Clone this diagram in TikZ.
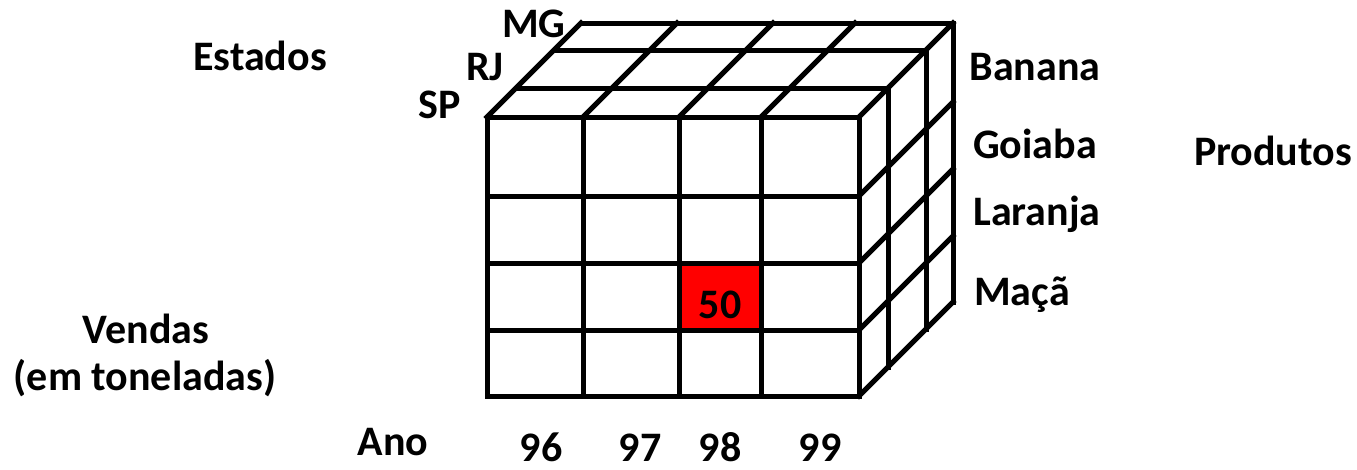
\documentclass[tikz,border=0pt]{standalone}
\usepackage{fontspec}
\setmainfont{Carlito}
\begin{document}
\begin{tikzpicture}[x=1pt,y=-1pt,
  grid/.style={line width=5pt,line cap=rect,line join=miter},
  lbl/.style={font=\fontsize{42}{46}\selectfont\bfseries,inner sep=0pt,anchor=base}]
\useasboundingbox (0,0) rectangle (1357,469);
% red cell
\fill[red] (679,263) rectangle (761,330);
% front face
\foreach \x in {487,583,679,761,859} \draw[grid] (\x,117) -- (\x,396);
\foreach \y in {117,196,263,330,396} \draw[grid] (487,\y) -- (859,\y);
% top face
\foreach \dx/\dy in {29/-29,67/-67,94/-94} \draw[grid] (487+\dx,117+\dy) -- (859+\dx,117+\dy);
\foreach \x in {487,583,679,761,859} \draw[grid] (\x,117) -- (\x+94,117-94);
% right face
\foreach \dx/\dy in {29/-29,67/-67,94/-94} \draw[grid] (859+\dx,117+\dy) -- (859+\dx,396+\dy);
\foreach \y in {196,263,330,396} \draw[grid] (859,\y) -- (859+94,\y-94);
% labels
\node[lbl] (estados) at (260,70) {Estados};
\node[lbl] (mg) at (534,37) {MG};
\node[lbl] (rj) at (485,80) {RJ};
\node[lbl] (sp) at (440,118) {SP};
\node[lbl] (banana) at (1035,80) {Banana};
\node[lbl] (goiaba) at (1035,158) {Goiaba};
\node[lbl] (laranja) at (1037,225) {Laranja};
\node[lbl] (maca) at (1022,305) {Maçã};
\node[lbl] (produtos) at (1273,165) {Produtos};
\node[lbl] (vendas) at (146,343) {Vendas};
\node[lbl] (emton) at (145,390) {(em toneladas)};
\node[lbl] (ano) at (393,455) {Ano};
\node[lbl] (y96) at (541,461) {96};
\node[lbl] (y97) at (640,461) {97};
\node[lbl] (y98) at (720,461) {98};
\node[lbl] (y99) at (820,461) {99};
\node[lbl] (cell) at (720,318) {50};
\end{tikzpicture}
\end{document}
